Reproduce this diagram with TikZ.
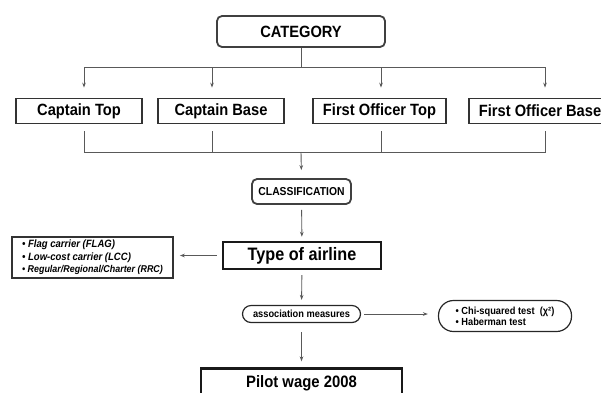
\documentclass[tikz,border=0pt]{standalone}
\usepackage{fontspec}
\setmainfont{Liberation Sans}[FakeStretch=0.9]
\usetikzlibrary{arrows.meta}

\tikzset{
  roundbox/.style={draw=black!75, line width=1.8pt, rounded corners=5pt, inner sep=0pt},
  rolebox/.style={draw=black!80, line width=1.8pt, minimum height=25pt, inner sep=0pt,
    font=\bfseries\fontsize{16.3}{19}\selectfont},
  mainbox/.style={draw=black!90, line width=2.4pt, minimum height=27pt, inner sep=0pt},
  pill/.style={draw=black!85, line width=1.2pt, inner sep=0pt},
  link/.style={draw=black!65, line width=0.9pt},
  arr/.style={link, -{Stealth[length=5pt,width=3.6pt]}}
}

\begin{document}
\begin{tikzpicture}[x=10pt,y=10pt]
    \useasboundingbox (0,0) rectangle (60.1,-39.2);
    % boxes
    \node[roundbox, minimum width=168pt, minimum height=31pt, font=\bfseries\fontsize{16.3}{19}\selectfont] (category) at (30.1,-3.15) {CATEGORY};
    \node[rolebox, minimum width=126pt] (captop) at (7.9,-11.1) {Captain Top};
    \node[rolebox, minimum width=126pt] (capbase) at (22.1,-11.1) {Captain Base};
    \node[rolebox, minimum width=133pt] (fotop) at (37.95,-11.1) {First Officer Top};
    \node[rolebox, anchor=west, inner xsep=10pt] (fobase) at (46.8,-11.1) {First Officer Base};
    \node[roundbox, minimum width=99pt, minimum height=25pt, font=\bfseries\fontsize{11.5}{14}\selectfont] (classif) at (30.15,-19.15) {CLASSIFICATION};
    \node[mainbox, minimum width=158pt, font=\bfseries\fontsize{18}{21}\selectfont] (airline) at (30.2,-25.55) {Type of airline};
    \node[draw=black!80, line width=1.8pt, minimum width=161pt, minimum height=41pt, inner sep=0pt, align=left,
          font=\bfseries\itshape\fontsize{10.6}{12.5}\selectfont] (carriers) at (9.25,-25.75)
          {\textbullet\ Flag carrier (FLAG)\\ \textbullet\ Low-cost carrier (LCC)\\ {\fontsize{9.9}{12.5}\selectfont\textbullet\ Regular/Regional/Charter (RRC)}};
    \node[pill, rounded corners=8.5pt, minimum width=118pt, minimum height=17pt, font=\bfseries\fontsize{10.3}{12}\selectfont] (assoc) at (30.15,-31.4) {association measures};
    \node[pill, rounded corners=15pt, minimum width=133pt, minimum height=31pt, align=left,
          font=\bfseries\fontsize{10.3}{11}\selectfont] (tests) at (50.5,-31.6)
          {\textbullet\ Chi-squared test\ \ (χ²)\\ \textbullet\ Haberman test};
    \node[mainbox, minimum width=201pt, minimum height=29pt, font=\bfseries\fontsize{16.5}{20}\selectfont] (wage) at (30.15,-38.3) {Pilot wage 2008};
    % category to roles
    \coordinate (topbus) at (30.1,-6.7);
    \draw[link] (category.south) -- (topbus);
    \draw[arr] (topbus) -| ([xshift=5pt,yshift=10pt]captop.north);
    \draw[arr] (topbus) -| ([xshift=-9pt,yshift=10pt]capbase.north);
    \draw[arr] (topbus) -| ([xshift=1.5pt,yshift=10pt]fotop.north);
    \draw[arr] (topbus) -| ([xshift=545pt-468pt,yshift=10pt]fobase.north west);
    % roles to classification
    \coordinate (lowbus) at (30.1,-15.2);
    \draw[link] ([xshift=5pt,yshift=-7pt]captop.south) |- (lowbus);
    \draw[link] ([xshift=-9pt,yshift=-7pt]capbase.south) |- (lowbus);
    \draw[link] ([xshift=1.5pt,yshift=-7pt]fotop.south) |- (lowbus);
    \draw[link] ([xshift=545pt-468pt,yshift=-7pt]fobase.south west) |- (lowbus);
    \draw[arr, shorten >=8pt] (lowbus) -- (classif.north);
    % lower chain
    \draw[arr, shorten <=5pt, shorten >=4pt] (classif) -- (airline);
    \draw[arr, shorten <=5pt, shorten >=6pt] (airline.west) -- (airline.west -| carriers.east);
    \draw[arr, shorten <=5pt, shorten >=5pt] (airline) -- (assoc);
    \draw[arr, shorten <=3pt, shorten >=10pt] (assoc.east) -- (assoc.east -| tests.west);
    \draw[arr, shorten <=9pt, shorten >=6pt] (assoc) -- (wage);
\end{tikzpicture}
\end{document}
